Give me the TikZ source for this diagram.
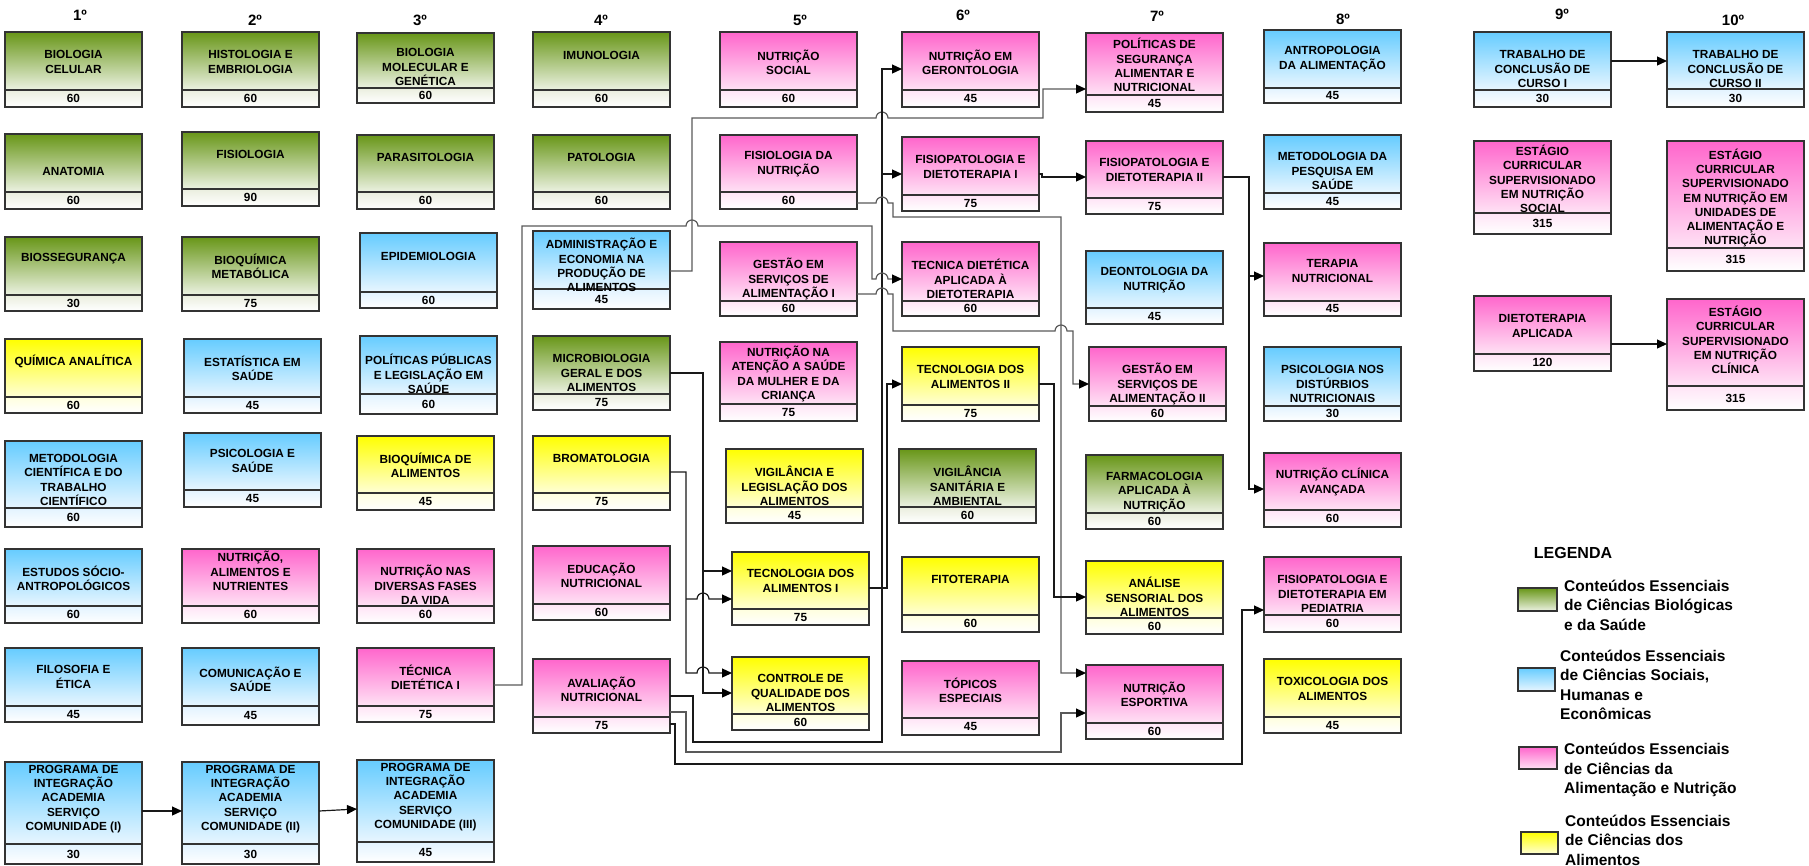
\documentclass[tikz,border=0pt]{standalone}
\usepackage{fontspec}
\setmainfont{Liberation Sans}
\usepackage{tikz}
\usetikzlibrary{arrows.meta}

\definecolor{greentop}{RGB}{104,150,24}
\definecolor{greenbot}{RGB}{236,242,226}
\definecolor{greenstrip}{RGB}{234,238,222}
\definecolor{bluetop}{RGB}{102,204,255}
\definecolor{bluebot}{RGB}{232,246,255}
\definecolor{bluestrip}{RGB}{226,243,255}
\definecolor{pinktop}{RGB}{255,102,204}
\definecolor{pinkbot}{RGB}{255,226,245}
\definecolor{pinkstrip}{RGB}{255,228,246}
\definecolor{yellowtop}{RGB}{255,255,0}
\definecolor{yellowbot}{RGB}{255,255,214}
\definecolor{yellowstrip}{RGB}{255,255,222}

% name, colour, left, top, divider, bottom, title y, title, hours
\newcommand{\course}[9]{%
  \shade[top color=#2top,bottom color=#2bot] (#3,#4) rectangle (#3+137,#5);
  \shade[top color=#2strip,bottom color=white] (#3,#5) rectangle (#3+137,#6);
  \node[box,minimum height=#6-#4] (#1) at (#3+68.5,{(#4+#6)/2}) {};
  \draw[boxline] (#3,#5) -- (#3+137,#5);
  \node[title] at (#3+68.5,#7) {#8};
  \node[hours] at (#3+68.5,{(#5+#6)/2}) {#9};
}

\begin{document}
\begin{tikzpicture}[x=1pt,y=-1pt,
  box/.style={draw=black!80,line width=1.1,minimum width=137,inner sep=0,outer sep=0},
  boxline/.style={draw=black!80,line width=1.1},
  title/.style={align=center,font=\fontsize{11.8}{14.3}\selectfont\bfseries,inner sep=0},
  hours/.style={font=\fontsize{11.8}{14}\selectfont\bfseries,inner sep=0},
  sem/.style={font=\fontsize{15}{18}\selectfont\bfseries,inner sep=0},
  legtxt/.style={anchor=west,align=left,font=\fontsize{15.5}{19.5}\selectfont\bfseries,inner sep=0},
  conn/.style={line width=1.2,black!90},
  conng/.style={line width=1.2,black!65},
  >={Triangle[length=10pt,width=9pt,color=black]}]
\useasboundingbox (0,0) rectangle (1809,865);

\node[sem] (sem1) at (80,15) {1º};
\node[sem] (sem2) at (255,20) {2º};
\node[sem] (sem3) at (420,20) {3º};
\node[sem] (sem4) at (601,20) {4º};
\node[sem] (sem5) at (800,20) {5º};
\node[sem] (sem6) at (963,15) {6º};
\node[sem] (sem7) at (1157,16) {7º};
\node[sem] (sem8) at (1343,19) {8º};
\node[sem] (sem9) at (1562,14) {9º};
\node[sem] (sem10) at (1733,20) {10º};

% 1
\course{bioc}{green}{5}{32}{90}{107}{62}{BIOLOGIA\\CELULAR}{60}
\course{anat}{green}{5}{134}{192}{209}{171}{ANATOMIA}{60}
\course{biosseg}{green}{5}{237}{295}{311}{259}{BIOSSEGURANÇA}{30}
\course{quimana}{yellow}{5}{339}{397}{413}{361}{QUÍMICA ANALÍTICA}{60}
\course{metcient}{blue}{5}{441}{508}{527}{480}{METODOLOGIA\\CIENTÍFICA E DO\\TRABALHO\\CIENTÍFICO}{60}
\course{estsoc}{blue}{5}{549}{606}{623}{578}{ESTUDOS SÓCIO-\\ANTROPOLÓGICOS}{60}
\course{filo}{blue}{5}{648}{706}{722}{677}{FILOSOFIA E\\ÉTICA}{45}
\course{piaI}{blue}{5}{762}{844}{864}{799}{PROGRAMA DE\\INTEGRAÇÃO\\ACADEMIA\\SERVIÇO\\COMUNIDADE (I)}{30}

% 2
\course{histo}{green}{182}{32}{90}{107}{62}{HISTOLOGIA E\\EMBRIOLOGIA}{60}
\course{fisio}{green}{182}{132}{189}{206}{154}{FISIOLOGIA}{90}
\course{bioqmet}{green}{182}{237}{295}{311}{266}{BIOQUÍMICA\\METABÓLICA}{75}
\course{estat}{blue}{184}{339}{397}{413}{368}{ESTATÍSTICA EM\\SAÚDE}{45}
\course{psico}{blue}{184}{433}{490}{507}{461}{PSICOLOGIA E\\SAÚDE}{45}
\course{nutali}{pink}{182}{549}{606}{623}{571}{NUTRIÇÃO,\\ALIMENTOS E\\NUTRIENTES}{60}
\course{comun}{blue}{182}{648}{706}{725}{679}{COMUNICAÇÃO E\\SAÚDE}{45}
\course{piaII}{blue}{182}{762}{844}{864}{799}{PROGRAMA DE\\INTEGRAÇÃO\\ACADEMIA\\SERVIÇO\\COMUNIDADE (II)}{30}

% 3
\course{biomol}{green}{357}{33}{88}{103}{67}{BIOLOGIA\\MOLECULAR E\\GENÉTICA}{60}
\course{parasit}{green}{357}{135}{192}{209}{157}{PARASITOLOGIA}{60}
\course{epidem}{blue}{360}{233}{292}{308}{256}{EPIDEMIOLOGIA}{60}
\course{polpub}{blue}{360}{336}{394}{414}{374}{POLÍTICAS PÚBLICAS\\E LEGISLAÇÃO EM\\SAÚDE}{60}
\course{bioqali}{yellow}{357}{436}{493}{510}{465}{BIOQUÍMICA DE\\ALIMENTOS}{45}
\course{nutfases}{pink}{357}{549}{606}{623}{585}{NUTRIÇÃO NAS\\DIVERSAS FASES\\DA VIDA}{60}
\course{tecdietI}{pink}{357}{648}{706}{722}{677}{TÉCNICA\\DIETÉTICA I}{75}
\course{piaIII}{blue}{357}{760}{842}{862}{797}{PROGRAMA DE\\INTEGRAÇÃO\\ACADEMIA\\SERVIÇO\\COMUNIDADE (III)}{45}

% 4
\course{imuno}{green}{533}{32}{90}{107}{55}{IMUNOLOGIA}{60}
\course{pato}{green}{533}{135}{192}{209}{157}{PATOLOGIA}{60}
\course{admin}{blue}{533}{231}{289}{309}{265}{ADMINISTRAÇÃO E\\ECONOMIA NA\\PRODUÇÃO DE\\ALIMENTOS}{45}
\course{microb}{green}{533}{336}{394}{410}{373}{MICROBIOLOGIA\\GERAL E DOS\\ALIMENTOS}{75}
\course{bromato}{yellow}{533}{436}{493}{510}{458}{BROMATOLOGIA}{75}
\course{educnut}{pink}{533}{546}{604}{620}{575}{EDUCAÇÃO\\NUTRICIONAL}{60}
\course{avalnut}{pink}{533}{659}{717}{733}{689}{AVALIAÇÃO\\NUTRICIONAL}{75}

% 5
\course{nutsoc}{pink}{720}{32}{90}{107}{62}{NUTRIÇÃO\\SOCIAL}{60}
\course{fisnut}{pink}{720}{135}{192}{209}{164}{FISIOLOGIA DA\\NUTRIÇÃO}{60}
\course{gestI}{pink}{720}{242}{301}{316}{279}{GESTÃO EM\\SERVIÇOS DE\\ALIMENTAÇÃO I}{60}
\course{nutmulher}{pink}{720}{342}{404}{421}{374}{NUTRIÇÃO NA\\ATENÇÃO A SAÚDE\\DA MULHER E DA\\CRIANÇA}{75}
\course{vigleg}{yellow}{726}{449}{507}{523}{486}{VIGILÂNCIA E\\LEGISLAÇÃO DOS\\ALIMENTOS}{45}
\course{tecaliI}{yellow}{732}{552}{609}{625}{581}{TECNOLOGIA DOS\\ALIMENTOS I}{75}
\course{controle}{yellow}{732}{657}{714}{730}{693}{CONTROLE DE\\QUALIDADE DOS\\ALIMENTOS}{60}

% 6
\course{geronto}{pink}{902}{32}{90}{107}{62}{NUTRIÇÃO EM\\GERONTOLOGIA}{45}
\course{fisiopI}{pink}{902}{137}{195}{211}{167}{FISIOPATOLOGIA E\\DIETOTERAPIA I}{75}
\course{tecdietap}{pink}{902}{242}{301}{316}{279}{TECNICA DIETÉTICA\\APLICADA À\\DIETOTERAPIA}{60}
\course{tecaliII}{yellow}{902}{347}{405}{421}{377}{TECNOLOGIA DOS\\ALIMENTOS II}{75}
\course{vigsan}{green}{899}{449}{507}{523}{486}{VIGILÂNCIA\\SANITÁRIA E\\AMBIENTAL}{60}
\course{fitoter}{yellow}{902}{557}{615}{632}{579}{FITOTERAPIA}{60}
\course{topicos}{pink}{902}{661}{718}{735}{690}{TÓPICOS\\ESPECIAIS}{45}

% 7
\course{polseg}{pink}{1086}{33}{95}{112}{65}{POLÍTICAS DE\\SEGURANÇA\\ALIMENTAR E\\NUTRICIONAL}{45}
\course{fisiopII}{pink}{1086}{141}{198}{214}{170}{FISIOPATOLOGIA E\\DIETOTERAPIA II}{75}
\course{deonto}{blue}{1086}{251}{308}{324}{280}{DEONTOLOGIA DA\\NUTRIÇÃO}{45}
\course{gestII}{pink}{1089}{347}{406}{421}{384}{GESTÃO EM\\SERVIÇOS DE\\ALIMENTAÇÃO II}{60}
\course{farmaco}{green}{1086}{455}{513}{529}{492}{FARMACOLOGIA\\APLICADA À\\NUTRIÇÃO}{60}
\course{sensorial}{yellow}{1086}{561}{618}{634}{597}{ANÁLISE\\SENSORIAL DOS\\ALIMENTOS}{60}
\course{esportiva}{pink}{1086}{665}{723}{739}{694}{NUTRIÇÃO\\ESPORTIVA}{60}

% 8
\course{antropo}{blue}{1264}{30}{88}{103}{59}{ANTROPOLOGIA\\DA ALIMENTAÇÃO}{45}
\course{metpesq}{blue}{1264}{135}{193}{209}{171}{METODOLOGIA DA\\PESQUISA EM\\SAÚDE}{45}
\course{terapia}{pink}{1264}{243}{301}{316}{271}{TERAPIA\\NUTRICIONAL}{45}
\course{psicdist}{blue}{1264}{347}{406}{421}{384}{PSICOLOGIA NOS\\DISTÚRBIOS\\NUTRICIONAIS}{30}
\course{nutclin}{pink}{1264}{453}{510}{527}{482}{NUTRIÇÃO CLÍNICA\\AVANÇADA}{60}
\course{pediatria}{pink}{1264}{557}{615}{632}{594}{FISIOPATOLOGIA E\\DIETOTERAPIA EM\\PEDIATRIA}{60}
\course{toxico}{yellow}{1264}{659}{717}{733}{689}{TOXICOLOGIA DOS\\ALIMENTOS}{45}

% 9 and 10
\course{tccI}{blue}{1474}{32}{90}{107}{69}{TRABALHO DE\\CONCLUSÃO DE\\CURSO I}{30}
\course{estsocial}{pink}{1474}{141}{213}{234}{179}{ESTÁGIO\\CURRICULAR\\SUPERVISIONADO\\EM NUTRIÇÃO\\SOCIAL}{315}
\course{dietapl}{pink}{1474}{296}{354}{371}{326}{DIETOTERAPIA\\APLICADA}{120}
\course{tccII}{blue}{1667}{32}{89}{107}{69}{TRABALHO DE\\CONCLUSÃO DE\\CURSO II}{30}
\course{estuan}{pink}{1667}{141}{248}{271}{198}{ESTÁGIO\\CURRICULAR\\SUPERVISIONADO\\EM NUTRIÇÃO EM\\UNIDADES DE\\ALIMENTAÇÃO E\\NUTRIÇÃO}{315}
\course{estclin}{pink}{1667}{299}{386}{410}{340}{ESTÁGIO\\CURRICULAR\\SUPERVISIONADO\\EM NUTRIÇÃO\\CLÍNICA}{315}

% prerequisites
\draw[conn,->] (tccI.east |- 0,61) -- (tccII.west |- 0,61);
\draw[conn,->] (dietapl.east |- 0,344) -- (estclin.west |- 0,344);
\draw[conn,->] (piaI.east |- 0,811) -- (piaII.west |- 0,811);
\draw[conn,->] (piaII.east |- 0,811) -- (piaIII.west |- 0,809);
\draw[conn,->] (fisiopI.east |- 0,174) -- (1042,174) -- (1042,177) -- (fisiopII.west |- 0,177);
\draw[conn,->] (fisiopII.east |- 0,177) -- (1249,177) -- (1249,489) -- (nutclin.west |- 0,489);
\coordinate (fpII) at (1249,276);
\draw[conn,->] (fpII) -- (terapia.west |- fpII);

\draw[conng,->] (admin.east |- 0,271) -- (692,271) -- (692,118) -- (876,118)
  arc[start angle=180,end angle=0,radius=6pt] -- (1043,118) -- (1043,89) -- (polseg.west |- 0,89);
\draw[conn,->] (avalnut.east |- 0,696) -- (693,696) -- (693,742) -- (882,742) -- (882,69) -- (geronto.west |- 0,69);
\coordinate (av1) at (882,174);
\draw[conn,->] (av1) -- (fisiopI.west |- av1);
\draw[conng,->] (tecdietI.east |- 0,685) -- (522,685) -- (522,226) -- (686,226)
  arc[start angle=180,end angle=0,radius=6pt] -- (872,226) -- (872,279) -- (876,279)
  arc[start angle=180,end angle=0,radius=6pt] -- (tecdietap.west |- 0,279);
\draw[conng,->] (fisnut.east |- 0,203) -- (876,203) arc[start angle=180,end angle=0,radius=6pt]
  -- (893,203) -- (893,217) -- (1061,217) -- (1061,673) -- (esportiva.west |- 0,673);
\draw[conng,->] (gestI.east |- 0,294) -- (876,294) arc[start angle=180,end angle=0,radius=6pt]
  -- (893,294) -- (893,331) -- (1055,331) arc[start angle=180,end angle=0,radius=6pt]
  -- (1073,331) -- (1073,384) -- (gestII.west |- 0,384);
\draw[conn,->] (tecaliI.east |- 0,588) -- (887,588) -- (887,384) -- (tecaliII.west |- 0,384);
\draw[conn,->] (tecaliII.east |- 0,384) -- (1054,384) -- (1054,597) -- (sensorial.west |- 0,597);
\draw[conn,->] (microb.east |- 0,373) -- (703,373) -- (703,693) -- (controle.west |- 0,693);
\coordinate (mb1) at (703,571);
\draw[conn,->] (mb1) -- (tecaliI.west |- mb1);
\draw[conn,->] (bromato.east |- 0,472) -- (686,472) -- (686,673) -- (697,673)
  arc[start angle=180,end angle=0,radius=6pt] -- (controle.west |- 0,673);
\coordinate (br1) at (686,599);
\draw[conn,->] (br1) -- (697,599) arc[start angle=180,end angle=0,radius=6pt] -- (tecaliI.west |- br1);
\draw[conng,->] (avalnut.east |- 0,712) -- (686,712) -- (686,752) -- (1061,752) -- (1061,713) -- (esportiva.west |- 0,713);
\draw[conn,->] (avalnut.east |- 0,724) -- (675,724) -- (675,764) -- (1242,764) -- (1242,610) -- (pediatria.west |- 0,610);

% legenda
\node[font=\fontsize{16}{19}\selectfont\bfseries,inner sep=0] (leg) at (1573,553) {LEGENDA};
\shadedraw[top color=greentop,bottom color=greenbot,draw=black!80,line width=1.1] (1518,588) rectangle (1557,611);
\shadedraw[top color=bluetop,bottom color=bluebot,draw=black!80,line width=1.1] (1518,668) rectangle (1555,691);
\shadedraw[top color=pinktop,bottom color=pinkbot,draw=black!80,line width=1.1] (1519,747) rectangle (1557,769);
\shadedraw[top color=yellowtop,bottom color=yellowbot,draw=black!80,line width=1.1] (1521,832) rectangle (1558,854);
\node[legtxt] (lgreen) at (1564,605) {Conteúdos Essenciais\\de Ciências Biológicas\\e da Saúde};
\node[legtxt] (lblue) at (1560,685) {Conteúdos Essenciais\\de Ciências Sociais,\\Humanas e\\Econômicas};
\node[legtxt] (lpink) at (1564,770) {Conteúdos Essenciais\\de Ciências da\\Alimentação e Nutrição};
\node[legtxt] (lyellow) at (1565,840) {Conteúdos Essenciais\\de Ciências dos\\Alimentos};
\end{tikzpicture}
\end{document}
